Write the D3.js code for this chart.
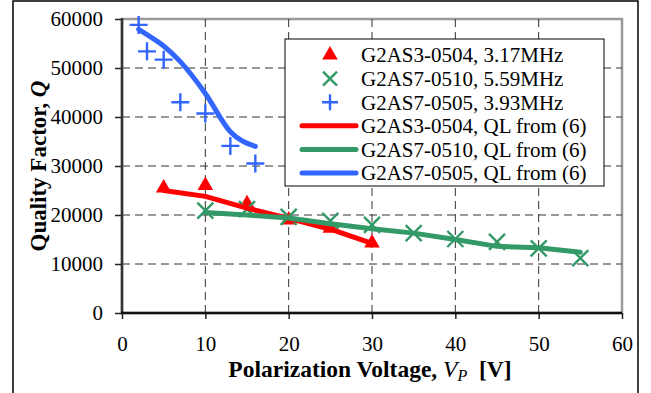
<!DOCTYPE html>
<html>
<head>
<meta charset="utf-8">
<script src="https://cdn.jsdelivr.net/npm/d3@7"></script>
<style>
  body { margin: 0; background: #fff; }
</style>
</head>
<body>
<div id="chart"></div>
<script>
// measured points (markers)
const redVp = [5, 10, 15, 20, 25, 30];
const redQ = [25500, 26000, 22300, 19000, 17300, 14300];
const greenVp = [10, 15, 20, 25, 30, 35, 40, 45, 50, 55];
const greenQ = [20900, 21200, 19600, 18800, 18000, 16300, 15100, 14500, 13200, 11200];
const blueVp = [2, 3, 5, 7, 10, 13, 16];
const blueQ = [58800, 53400, 51700, 43000, 40700, 34100, 30500];

// QL from (6) curves
const redLineVp = [5, 10, 15, 20, 25, 30];
const redLineQ = [25000, 23800, 21400, 19300, 17100, 14200];
const greenLineVp = [10, 15, 20, 25, 30, 35, 40, 45, 50, 55];
const greenLineQ = [20500, 20000, 19400, 18200, 17200, 16300, 15000, 13600, 13300, 12400];
const blueLineVp = [2, 3, 5, 7, 10, 13, 16];
const blueLineQ = [57900, 56800, 54500, 51300, 44800, 37000, 34000];

const xTicks = [0, 10, 20, 30, 40, 50, 60];
const yTicks = [0, 10000, 20000, 30000, 40000, 50000, 60000];

const legendLabels = [
  "G2AS3-0504, 3.17MHz",
  "G2AS7-0510, 5.59MHz",
  "G2AS7-0505, 3.93MHz",
  "G2AS3-0504, QL from (6)",
  "G2AS7-0510, QL from (6)",
  "G2AS7-0505, QL from (6)"
];

const RED = "#ff0000", GREEN = "#339966", BLUE = "#3366ff";
const FONT = '"Liberation Serif", "Times New Roman", serif';

const width = 651, height = 393;
const plot = { left: 122, right: 622, top: 19, bottom: 313 };

const svg = d3.select("#chart").append("svg")
  .attr("width", width)
  .attr("height", height)
  .style("font-family", FONT);

// outer frame
svg.append("rect")
  .attr("x", 13).attr("y", 1)
  .attr("width", 625).attr("height", 410)
  .attr("fill", "none").attr("stroke", "#000").attr("stroke-width", 1.5);

const x = d3.scaleLinear().domain([0, 60]).range([plot.left, plot.right]);
const y = d3.scaleLinear().domain([0, 60000]).range([plot.bottom, plot.top]);

// plot area border (grey)
svg.append("rect")
  .attr("x", plot.left).attr("y", plot.top)
  .attr("width", plot.right - plot.left).attr("height", plot.bottom - plot.top)
  .attr("fill", "none").attr("stroke", "#9a9a9a").attr("stroke-width", 2.5);

// gridlines
const grid = svg.append("g")
  .attr("stroke", "#333").attr("stroke-width", 1).attr("stroke-dasharray", "8,5");
grid.selectAll("line.h").data(yTicks.filter(d => d > 0 && d < 60000)).join("line")
  .attr("x1", plot.left).attr("x2", plot.right)
  .attr("y1", d => y(d)).attr("y2", d => y(d));
grid.selectAll("line.v").data(xTicks.filter(d => d > 0 && d < 60)).join("line")
  .attr("y1", plot.top).attr("y2", plot.bottom)
  .attr("x1", d => x(d)).attr("x2", d => x(d));

// axes
const xAxis = d3.axisBottom(x).tickValues(xTicks).tickFormat(d3.format("d")).tickSize(6).tickPadding(17);
const yAxis = d3.axisLeft(y).tickValues(yTicks).tickFormat(d3.format("d")).tickSize(7).tickPadding(12);

const gx = svg.append("g").attr("transform", `translate(0,${plot.bottom})`).call(xAxis);
const gy = svg.append("g").attr("transform", `translate(${plot.left},0)`).call(yAxis);
[gx, gy].forEach(g => {
  g.attr("font-family", null).attr("font-size", null);
  g.select(".domain").remove();
  g.selectAll(".tick line").attr("stroke", "#222").attr("stroke-width", 1.5);
  g.selectAll(".tick text")
    .attr("fill", "#000")
    .style("font-family", FONT)
    .style("font-size", "21px");
});
gx.selectAll(".tick text").attr("dy", "0.71em");

svg.append("line")
  .attr("x1", plot.left).attr("x2", plot.left)
  .attr("y1", plot.top - 1).attr("y2", plot.bottom + 1)
  .attr("stroke", "#333").attr("stroke-width", 2.5);
svg.append("line")
  .attr("x1", plot.left - 1).attr("x2", plot.right)
  .attr("y1", plot.bottom).attr("y2", plot.bottom)
  .attr("stroke", "#111").attr("stroke-width", 2.5);

// markers
const tri = d3.symbol().type(d3.symbolTriangle).size(105);
svg.append("g").selectAll("path").data(d3.zip(redVp, redQ)).join("path")
  .attr("d", tri)
  .attr("transform", d => `translate(${x(d[0])},${y(d[1])})`)
  .attr("fill", RED);

const crossHalf = 8;
svg.append("g").selectAll("path").data(d3.zip(greenVp, greenQ)).join("path")
  .attr("d", d => {
    const cx = x(d[0]), cy = y(d[1]), h = crossHalf;
    return `M${cx - h},${cy - h}L${cx + h},${cy + h}M${cx - h},${cy + h}L${cx + h},${cy - h}`;
  })
  .attr("stroke", GREEN).attr("stroke-width", 2.4).attr("fill", "none");

const plusHalf = 9;
svg.append("g").selectAll("path").data(d3.zip(blueVp, blueQ)).join("path")
  .attr("d", d => {
    const cx = x(d[0]), cy = y(d[1]), h = plusHalf;
    return `M${cx - h},${cy}L${cx + h},${cy}M${cx},${cy - h}L${cx},${cy + h}`;
  })
  .attr("stroke", BLUE).attr("stroke-width", 2.4).attr("fill", "none");

// fitted lines
const line = d3.line().x(d => x(d[0])).y(d => y(d[1]));
const smooth = d3.line().x(d => x(d[0])).y(d => y(d[1])).curve(d3.curveMonotoneX);

svg.append("path").datum(d3.zip(redLineVp, redLineQ))
  .attr("d", line).attr("fill", "none").attr("stroke", RED)
  .attr("stroke-width", 5).attr("stroke-linecap", "round").attr("stroke-linejoin", "round");
svg.append("path").datum(d3.zip(greenLineVp, greenLineQ))
  .attr("d", line).attr("fill", "none").attr("stroke", GREEN)
  .attr("stroke-width", 5).attr("stroke-linecap", "round").attr("stroke-linejoin", "round");
svg.append("path").datum(d3.zip(blueLineVp, blueLineQ))
  .attr("d", smooth).attr("fill", "none").attr("stroke", BLUE)
  .attr("stroke-width", 5).attr("stroke-linecap", "round").attr("stroke-linejoin", "round");

// legend
const lg = svg.append("g");
lg.append("rect")
  .attr("x", 285).attr("y", 39).attr("width", 319).attr("height", 147)
  .attr("fill", "#fff").attr("stroke", "#000").attr("stroke-width", 1);

const rowY = i => 55 + i * 23.6;
const markX = 330;
lg.append("path").attr("d", tri).attr("transform", `translate(${markX},${rowY(0)})`).attr("fill", RED);
lg.append("path")
  .attr("d", `M${markX - 7},${rowY(1) - 7}L${markX + 7},${rowY(1) + 7}M${markX - 7},${rowY(1) + 7}L${markX + 7},${rowY(1) - 7}`)
  .attr("stroke", GREEN).attr("stroke-width", 2.4);
lg.append("path")
  .attr("d", `M${markX - 8},${rowY(2)}L${markX + 8},${rowY(2)}M${markX},${rowY(2) - 8}L${markX},${rowY(2) + 8}`)
  .attr("stroke", BLUE).attr("stroke-width", 2.4);
[RED, GREEN, BLUE].forEach((c, i) => {
  lg.append("line")
    .attr("x1", 302).attr("x2", 356)
    .attr("y1", rowY(i + 3)).attr("y2", rowY(i + 3))
    .attr("stroke", c).attr("stroke-width", 5).attr("stroke-linecap", "round");
});
lg.selectAll("text").data(legendLabels).join("text")
  .attr("x", 361).attr("y", (d, i) => rowY(i))
  .attr("dy", "0.35em")
  .style("font-family", FONT)
  .style("font-size", "21px")
  .text(d => d);

// axis titles
const xt = svg.append("text")
  .attr("x", (plot.left + plot.right) / 2 - 2).attr("y", 377)
  .attr("text-anchor", "middle")
  .style("font-family", FONT)
  .style("font-size", "23.5px");
xt.append("tspan").attr("font-weight", "bold").text("Polarization Voltage, ");
xt.append("tspan").attr("font-style", "italic").text("V");
xt.append("tspan").attr("font-style", "italic").attr("dy", 4).style("font-size", "16px").text("P");
xt.append("tspan").attr("font-weight", "bold").attr("dy", -4).text("\u00a0 [V]");

const yt = svg.append("text")
  .attr("transform", `translate(46,${(plot.top + plot.bottom) / 2}) rotate(-90)`)
  .attr("text-anchor", "middle")
  .style("font-family", FONT)
  .style("font-size", "23px")
  .attr("font-weight", "bold");
yt.append("tspan").text("Quality Factor, ");
yt.append("tspan").attr("font-style", "italic").text("Q");
</script>
</body>
</html>
